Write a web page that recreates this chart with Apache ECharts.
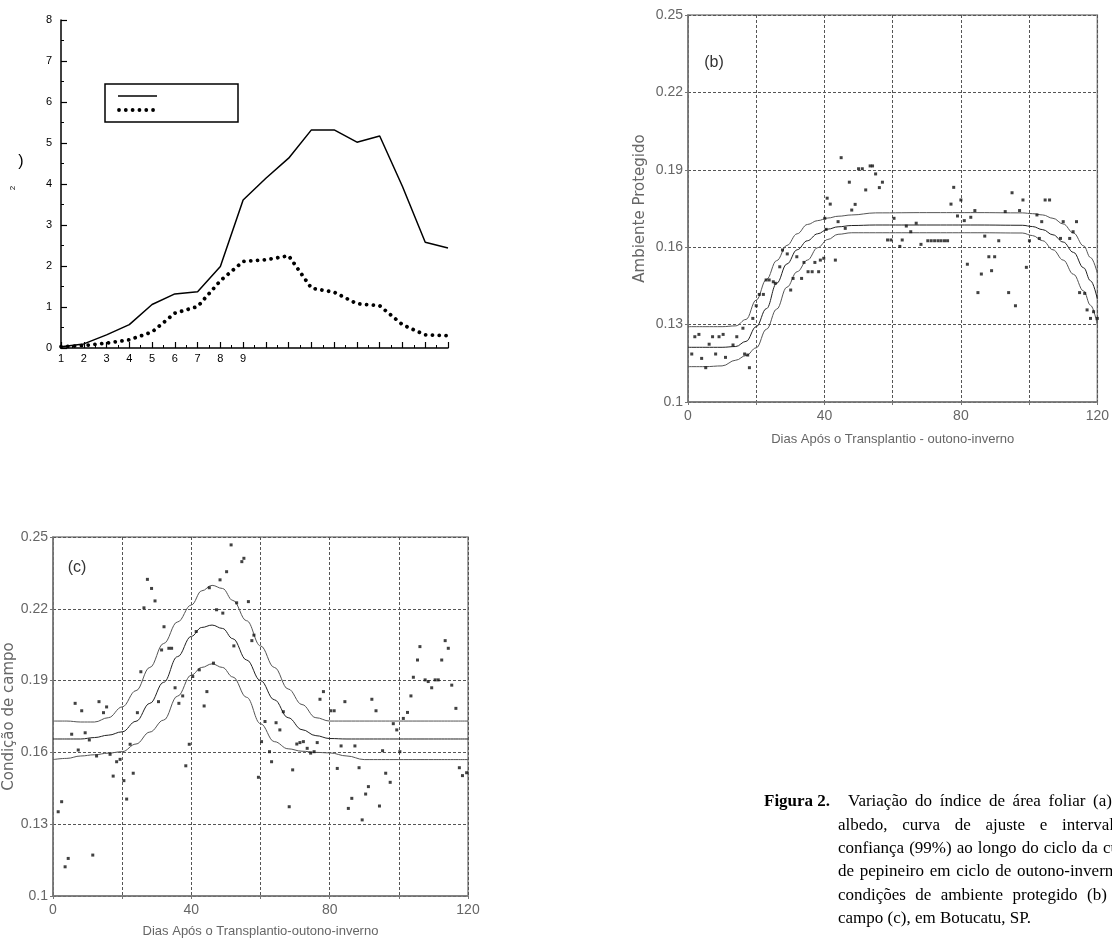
<!DOCTYPE html>
<html>
<head>
<meta charset="utf-8">
<script src="https://cdn.jsdelivr.net/npm/echarts@6/dist/echarts.min.js"></script>
<style>
  html, body { margin: 0; padding: 0; background: #fff; }
  #main { width: 1112px; height: 941px; }
</style>
</head>
<body>
<div id="main"></div>
<script>
// ---- panel (a): leaf area index per week ----
const weeks = [1, 2, 3, 4, 5, 6, 7, 8, 9, 10, 11, 12, 13, 14, 15, 16, 17, 18];
const iafSolid = [0.03, 0.1, 0.32, 0.57, 1.06, 1.32, 1.37, 1.99, 3.61, 4.14, 4.63, 5.32, 5.32, 5.02, 5.17, 3.94, 2.58, 2.44];
const iafDotted = [0.03, 0.06, 0.12, 0.2, 0.39, 0.85, 1.01, 1.64, 2.11, 2.15, 2.25, 1.46, 1.36, 1.08, 1.03, 0.57, 0.32, 0.3];

// ---- panel (b): albedo, protected environment ----
const bDays = [1.1, 2.0, 3.2, 4.0, 5.2, 6.2, 7.2, 8.1, 9.1, 10.3, 11.0, 13.2, 14.3, 16.1, 16.6, 17.5, 18.0, 19.0, 20.0, 20.9,
  22.1, 22.9, 23.8, 25.0, 25.6, 26.9, 27.7, 29.1, 30.1, 30.8, 31.9, 33.3, 34.0, 35.2, 36.4, 37.2, 38.3, 38.8, 39.8, 40.1,
  40.5, 40.8, 41.7, 43.2, 44.0, 44.9, 46.1, 47.3, 48.0, 49.0, 50.0, 51.1, 52.1, 53.4, 54.1, 55.0, 56.1, 57.0, 58.5, 59.5,
  60.4, 62.1, 62.8, 64.0, 65.3, 66.9, 68.3, 70.3, 71.3, 72.3, 73.3, 74.2, 75.2, 76.1, 77.1, 77.9, 79.0, 80.0, 81.0, 81.9,
  82.9, 84.1, 85.0, 86.0, 87.0, 88.2, 89.0, 89.9, 91.1, 93.0, 94.0, 95.0, 96.0, 97.2, 98.2, 99.2, 100.1, 102.3, 103.0, 103.7,
  104.7, 106.0, 109.2, 110.0, 111.9, 112.9, 113.9, 114.8, 116.3, 117.0, 118.0, 118.9, 120.0];
const bAlbedo = [0.1186, 0.1253, 0.1262, 0.1169, 0.1133, 0.1224, 0.1253, 0.1186, 0.1253, 0.1262, 0.1173, 0.1221, 0.1253, 0.1286, 0.1186, 0.1182, 0.1133, 0.1324, 0.1373, 0.1417,
  0.1417, 0.1473, 0.1473, 0.1466, 0.146, 0.1524, 0.1589, 0.1574, 0.1434, 0.1479, 0.1563, 0.1479, 0.1541, 0.1505, 0.1505, 0.1541, 0.1505, 0.155, 0.1557, 0.1712,
  0.1669, 0.179, 0.1767, 0.155, 0.1699, 0.1947, 0.1673, 0.1852, 0.1744, 0.1766, 0.1904, 0.1904, 0.1822, 0.1915, 0.1915, 0.1884, 0.1831, 0.1852, 0.1628, 0.1628,
  0.1712, 0.1603, 0.1628, 0.1682, 0.166, 0.1693, 0.1611, 0.1625, 0.1625, 0.1625, 0.1625, 0.1625, 0.1625, 0.1625, 0.1767, 0.1832, 0.1721, 0.1783, 0.1703, 0.1534,
  0.1716, 0.1742, 0.1424, 0.1496, 0.1643, 0.1563, 0.1509, 0.1563, 0.1625, 0.1738, 0.1424, 0.1811, 0.1373, 0.1742, 0.1783, 0.1522, 0.1625, 0.1725, 0.1634, 0.1699,
  0.1783, 0.1783, 0.1634, 0.1699, 0.1634, 0.166, 0.1699, 0.1424, 0.1421, 0.1357, 0.1324, 0.135, 0.1324];
const bFitDays = [0, 5, 10, 14, 17, 20, 23, 26, 29, 32, 35, 38, 41, 44, 48, 55, 70, 85, 98, 101, 104, 107, 110, 113, 116, 118, 120];
const bUpper = [0.1292, 0.1292, 0.1292, 0.1295, 0.132, 0.1395, 0.1475, 0.1548, 0.1607, 0.1652, 0.1688, 0.1703, 0.1713, 0.172, 0.1725, 0.1733, 0.1734, 0.1734, 0.1733, 0.173, 0.1725, 0.1712, 0.169, 0.1655, 0.1605, 0.156, 0.15];
const bFit = [0.1212, 0.1212, 0.1212, 0.1215, 0.1235, 0.1292, 0.1362, 0.146, 0.1535, 0.159, 0.1625, 0.1652, 0.167, 0.1679, 0.1684, 0.1686, 0.1686, 0.1686, 0.1685, 0.168, 0.1668, 0.1648, 0.162, 0.158, 0.152, 0.147, 0.14];
const bLower = [0.1137, 0.1137, 0.114, 0.1162, 0.118, 0.121, 0.1282, 0.136, 0.1445, 0.1505, 0.155, 0.1598, 0.163, 0.165, 0.1656, 0.1656, 0.1656, 0.1656, 0.1655, 0.1645, 0.1625, 0.159, 0.155, 0.1495, 0.143, 0.1375, 0.13];

// ---- panel (c): albedo, field condition ----
const cDays = [1.5, 2.5, 3.5, 4.4, 5.4, 6.4, 7.3, 8.3, 9.3, 10.5, 11.5, 12.6, 13.3, 14.6, 15.5, 16.5, 17.4, 18.4, 19.4, 20.5,
  21.3, 22.3, 23.2, 24.4, 25.4, 26.3, 27.3, 28.5, 29.5, 30.5, 31.4, 32.1, 33.5, 34.3, 35.3, 36.4, 37.5, 38.4, 39.4, 40.4,
  41.4, 42.3, 43.7, 44.5, 45.2, 46.4, 47.3, 48.3, 49.1, 50.2, 51.5, 52.3, 53.1, 54.6, 55.2, 56.5, 57.5, 58.1, 59.4, 60.3,
  61.3, 62.6, 63.2, 64.5, 65.6, 66.6, 68.3, 69.3, 70.5, 71.4, 72.4, 73.5, 74.5, 75.5, 76.4, 77.2, 78.2, 80.3, 81.3, 82.2,
  83.3, 84.4, 85.4, 86.4, 87.3, 88.5, 89.4, 90.4, 91.2, 92.2, 93.4, 94.4, 95.3, 96.2, 97.5, 98.4, 99.4, 100.3, 101.3, 102.5,
  103.5, 104.2, 105.4, 106.1, 107.6, 108.5, 109.5, 110.5, 111.4, 112.4, 113.4, 114.3, 115.3, 116.5, 117.5, 118.4, 119.6];
const cAlbedo = [0.1352, 0.1394, 0.1122, 0.1157, 0.1676, 0.1805, 0.161, 0.1774, 0.1682, 0.1652, 0.1171, 0.1585, 0.1812, 0.1766, 0.179, 0.1592, 0.1501, 0.1561, 0.1571, 0.1482,
  0.1405, 0.1634, 0.1513, 0.1766, 0.1937, 0.2204, 0.2323, 0.2285, 0.2233, 0.1812, 0.2028, 0.2125, 0.2035, 0.2035, 0.187, 0.1805, 0.1836, 0.1544, 0.1634, 0.1917,
  0.2105, 0.1945, 0.1794, 0.1854, 0.2288, 0.1973, 0.2196, 0.2321, 0.2182, 0.2355, 0.2467, 0.2045, 0.2225, 0.2397, 0.2411, 0.223, 0.2067, 0.209, 0.1496, 0.1645,
  0.1729, 0.1603, 0.1561, 0.1724, 0.1694, 0.177, 0.1373, 0.1527, 0.1635, 0.1641, 0.1645, 0.1617, 0.1597, 0.1603, 0.1641, 0.1822, 0.1854, 0.1774, 0.1774, 0.1533,
  0.1627, 0.1812, 0.1366, 0.1408, 0.1627, 0.1536, 0.1318, 0.1426, 0.1457, 0.1822, 0.1774, 0.1376, 0.1607, 0.1513, 0.1475, 0.172, 0.1694, 0.1603, 0.1742, 0.1767,
  0.1836, 0.1914, 0.1986, 0.2042, 0.1903, 0.1896, 0.187, 0.1903, 0.1903, 0.1986, 0.2067, 0.2035, 0.1881, 0.1784, 0.1536, 0.1503, 0.1515];
const cFitDays = [0, 4, 8, 12, 16, 20, 24, 28, 32, 36, 40, 43, 46, 49, 52, 56, 60, 64, 68, 72, 76, 80, 85, 90, 100, 110, 120];
const cUpper = [0.1731, 0.1731, 0.1727, 0.1727, 0.1745, 0.179, 0.1858, 0.1955, 0.2055, 0.2145, 0.2216, 0.2275, 0.2298, 0.2285, 0.2235, 0.215, 0.2045, 0.1955, 0.1865, 0.18, 0.1745, 0.1731, 0.1731, 0.1731, 0.1731, 0.1731, 0.1731];
const cFit = [0.1656, 0.1656, 0.1656, 0.1662, 0.1672, 0.1686, 0.173, 0.1805, 0.1893, 0.2, 0.2085, 0.2122, 0.2132, 0.2118, 0.2075, 0.1986, 0.19, 0.182, 0.1745, 0.1695, 0.167, 0.1658, 0.1656, 0.1656, 0.1656, 0.1656, 0.1656];
const cLower = [0.157, 0.1575, 0.1585, 0.159, 0.1597, 0.1603, 0.1635, 0.1685, 0.1735, 0.1835, 0.1923, 0.1955, 0.197, 0.1955, 0.1915, 0.183, 0.172, 0.1645, 0.1615, 0.1605, 0.16, 0.1598, 0.1585, 0.157, 0.157, 0.157, 0.157];

// ---- caption ----
const captionHead = "Figura 2.";
const captionLines = [
  "Variação do índice de área foliar (a),",
  "albedo, curva de ajuste e intervalo de",
  "confiança (99%) ao longo do ciclo da cultura",
  "de pepineiro em ciclo de outono-inverno, em",
  "condições de ambiente protegido (b) e",
  "campo (c), em Botucatu, SP."
];

const sans = "'Liberation Sans', Arial, sans-serif";
const grey = "#666";

function zip(xs, ys) {
  return xs.map((x, i) => [x, ys[i]]);
}

// x axis of the albedo panels
function dayAxis(gridIndex, name, nameGap) {
  return {
    type: "value", gridIndex: gridIndex, min: 0, max: 120, interval: 20,
    name: name, nameLocation: "middle", nameGap: nameGap,
    nameTextStyle: { color: grey, fontSize: 13, fontFamily: sans },
    axisLine: { show: true, lineStyle: { color: "#777", width: 1.5 } },
    axisTick: { show: true, length: 3, lineStyle: { color: "#777" } },
    axisLabel: { formatter: (v) => (v % 40 === 0 ? String(v) : ""), color: grey, fontSize: 14, fontFamily: sans, margin: 7 },
    splitLine: { show: true, lineStyle: { color: "#555", width: 1, type: [3, 2] } }
  };
}

function albedoAxis(gridIndex, name, nameGap) {
  return {
    type: "value", gridIndex: gridIndex, min: 0.1, max: 0.25, interval: 0.03,
    name: name, nameLocation: "middle", nameGap: nameGap, nameRotate: 90,
    nameTextStyle: { color: grey, fontSize: 15, fontFamily: "'DejaVu Sans', sans-serif" },
    axisLine: { show: true, lineStyle: { color: "#777", width: 1.5 } },
    axisTick: { show: true, length: 3, lineStyle: { color: "#777" } },
    axisLabel: { formatter: (v) => String(+v.toFixed(2)), color: grey, fontSize: 14, fontFamily: sans, margin: 5 },
    splitLine: { show: true, lineStyle: { color: "#555", width: 1, type: [3, 2] } }
  };
}

function bandLine(x, y, idx, color) {
  return {
    type: "line", xAxisIndex: idx, yAxisIndex: idx, data: zip(x, y), symbol: "none",
    smooth: 0.4, smoothMonotone: "x",
    lineStyle: { color: color, width: 1 }, z: 3
  };
}

function scatter(x, y, idx) {
  return {
    type: "scatter", xAxisIndex: idx, yAxisIndex: idx, data: zip(x, y),
    symbol: "rect", symbolSize: 3, itemStyle: { color: "#111" }, z: 4
  };
}

// Caption: words spread so that one chosen word starts at a given x (justified look)
function captionGraphic() {
  const ctx = document.createElement("canvas").getContext("2d");
  const font = "17px 'Liberation Serif', 'Times New Roman', serif";
  ctx.font = font;
  const lineY = [802, 826, 849, 872, 896, 919];
  const startX = [848, 838, 838, 838, 838, 838];
  const anchor = [[6, 1093], [5, 1062], [7, 1103], [5, 1017], [4, 1087], null];
  const els = [{
    type: "text", x: 764, y: lineY[0],
    style: { text: captionHead, font: "bold " + font, fill: "#000", verticalAlign: "middle" }
  }];
  captionLines.forEach((line, li) => {
    const words = line.split(" ");
    const widths = words.map((w) => ctx.measureText(w).width);
    let gap = ctx.measureText(" ").width;
    if (anchor[li]) {
      const k = anchor[li][0];
      let used = 0;
      for (let i = 0; i < k; i++) used += widths[i];
      gap = (anchor[li][1] - startX[li] - used) / k;
    }
    let x = startX[li];
    words.forEach((w, i) => {
      els.push({ type: "text", x: x, y: lineY[li], style: { text: w, font: font, fill: "#000", verticalAlign: "middle" } });
      x += widths[i] + gap;
    });
  });
  return els;
}

let myChart = echarts.init(document.getElementById("main"));

let option = {
  animation: false,
  backgroundColor: "#fff",
  grid: [
    { left: 61, top: 20, width: 387, height: 328, show: false },
    { left: 688, top: 15, width: 413, height: 387, show: true, borderColor: "#888", borderWidth: 1.5 },
    { left: 53, top: 537, width: 415, height: 359, show: true, borderColor: "#888", borderWidth: 1.5 }
  ],
  xAxis: [
    {
      type: "value", gridIndex: 0, min: 1, max: 18, interval: 1,
      axisLine: { show: true, lineStyle: { color: "#000", width: 1.5 } },
      axisTick: { show: true, inside: true, length: 6, lineStyle: { color: "#000", width: 1.2 } },
      minorTick: { show: true, splitNumber: 2, length: 3, lineStyle: { color: "#000" } },
      axisLabel: { formatter: (v) => (v <= 9 ? String(v) : ""), color: "#000", fontSize: 11, fontFamily: sans, margin: 5 },
      splitLine: { show: false }
    },
    dayAxis(1, "Dias Após o Transplantio - outono-inverno", 31),
    dayAxis(2, "Dias Após o Transplantio-outono-inverno", 29)
  ],
  yAxis: [
    {
      type: "value", gridIndex: 0, min: 0, max: 8, interval: 1,
      axisLine: { show: true, lineStyle: { color: "#000", width: 1.5 } },
      axisTick: { show: true, inside: true, length: 6, lineStyle: { color: "#000", width: 1.2 } },
      minorTick: { show: true, splitNumber: 2, length: 3, lineStyle: { color: "#000" } },
      axisLabel: { color: "#000", fontSize: 11, fontFamily: sans, margin: 9 },
      splitLine: { show: false }
    },
    albedoAxis(1, "Ambiente Protegido", 40),
    albedoAxis(2, "Condição de campo", 36)
  ],
  series: [
    {
      type: "line", xAxisIndex: 0, yAxisIndex: 0, data: zip(weeks, iafSolid), symbol: "none",
      lineStyle: { color: "#000", width: 1.5 }
    },
    {
      type: "line", xAxisIndex: 0, yAxisIndex: 0, data: zip(weeks, iafDotted), symbol: "none",
      lineStyle: { color: "#000", width: 3.8, type: [0.01, 6.8], cap: "round" }
    },
    scatter(bDays, bAlbedo, 1),
    bandLine(bFitDays, bUpper, 1, "#555"),
    bandLine(bFitDays, bFit, 1, "#222"),
    bandLine(bFitDays, bLower, 1, "#555"),
    scatter(cDays, cAlbedo, 2),
    bandLine(cFitDays, cUpper, 2, "#555"),
    bandLine(cFitDays, cFit, 2, "#222"),
    bandLine(cFitDays, cLower, 2, "#555")
  ],
  graphic: [
    // legend box of panel (a), its labels are missing in the source
    { type: "rect", shape: { x: 105, y: 84, width: 133, height: 38 }, style: { fill: "#fff", stroke: "#000", lineWidth: 1.5 } },
    { type: "line", shape: { x1: 118, y1: 96, x2: 157, y2: 96 }, style: { stroke: "#000", lineWidth: 1.5 } },
    { type: "line", shape: { x1: 119, y1: 110, x2: 154, y2: 110 }, style: { stroke: "#000", lineWidth: 3.8, lineDash: [0.01, 6.8], lineCap: "round" } },
    { type: "text", x: 21, y: 162, style: { text: ")", font: "16px " + sans, fill: "#000", align: "center", verticalAlign: "middle" } },
    { type: "text", x: 13, y: 188, rotation: Math.PI / 2, style: { text: "2", font: "8px " + sans, fill: "#000", align: "center", verticalAlign: "middle" } },
    { type: "text", x: 714, y: 63, style: { text: "(b)", font: "16px " + sans, fill: "#333", align: "center", verticalAlign: "middle" } },
    { type: "text", x: 77, y: 568, style: { text: "(c)", font: "16px " + sans, fill: "#333", align: "center", verticalAlign: "middle" } }
  ].concat(captionGraphic())
};

myChart.setOption(option);
</script>
</body>
</html>
